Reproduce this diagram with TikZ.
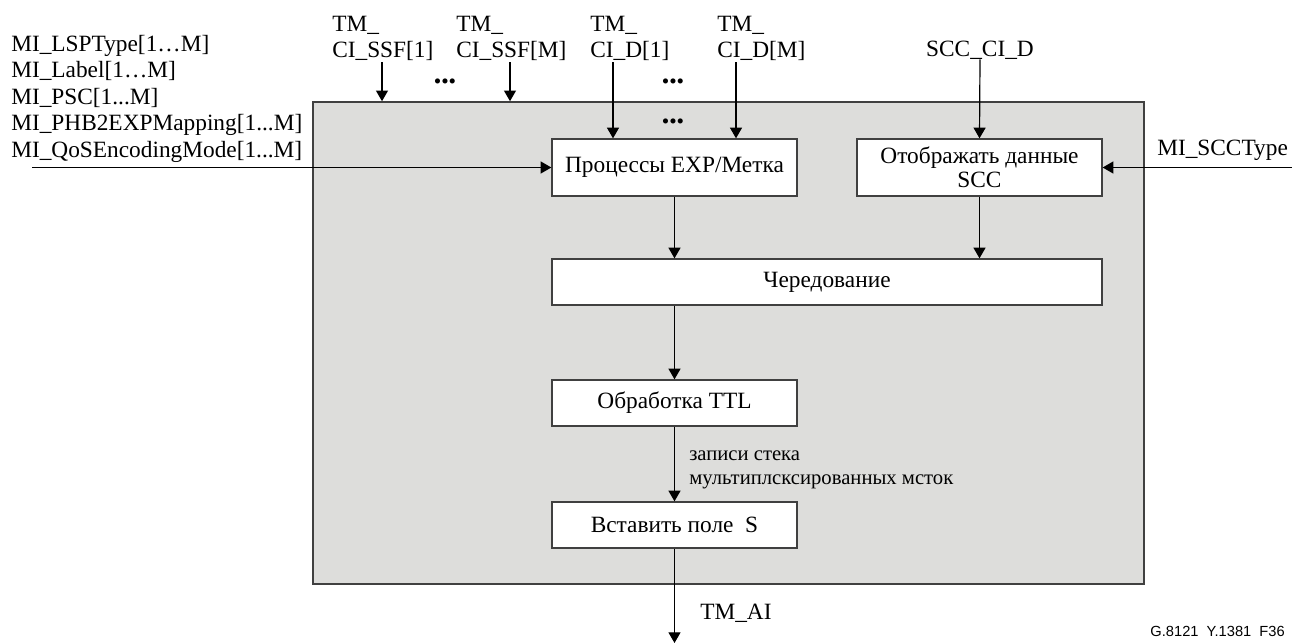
\documentclass[tikz,border=0pt]{standalone}
\usepackage{fontspec}
\setmainfont{Liberation Serif}
\newfontfamily\figfont{Liberation Sans}
\usetikzlibrary{arrows.meta}
\definecolor{panel}{RGB}{221,221,219}
\definecolor{edge}{RGB}{64,64,64}
\tikzset{
  block/.style={draw=edge, line width=1pt, fill=white, inner sep=0pt,
    minimum width=183.75pt, minimum height=34.5pt, font=\fontsize{17.5}{18}\selectfont},
  sig/.style={inner sep=0pt, align=left, font=\fontsize{17.5}{19.8}\selectfont},
  dots/.style={inner sep=0pt, font=\fontsize{16}{16}\selectfont},
  flow/.style={->, line width=0.9pt},
}

\begin{document}
\begin{tikzpicture}[x=0.75pt,y=-0.75pt,>={Triangle[length=8pt,width=9pt]}]
    \useasboundingbox (0,0) rectangle (1292,643);
    % Frame
    \node[draw=edge, line width=1.2pt, fill=panel, minimum width=623.25pt, minimum height=361.5pt] (frame) at (728.5,343) {};
    % Blocks
    \node[block, minimum height=42.75pt] (exp) at (674.5,167.5) {Процессы EXP/Метка};
    \node[block, minimum height=42.75pt, align=center] (scc) at (979.5,167.5) {Отображать данные\\SCC};
    \node[block, minimum width=412.5pt] (alt) at (827,282) {Чередование};
    \node[block] (ttl) at (674.5,403) {Обработка TTL};
    \node[block] (ins) at (674.5,525) {Вставить поле\ \ S};
    % Inputs at top
    \node[sig, anchor=south west] (ssf1) at (332,61) {TM\_\\CI\_SSF[1]};
    \node[sig, anchor=south west] (ssfm) at (456,61) {TM\_\\CI\_SSF[M]};
    \node[sig, anchor=south west] (d1) at (590,61) {TM\_\\CI\_D[1]};
    \node[sig, anchor=south west] (dm) at (717,61) {TM\_\\CI\_D[M]};
    \node[sig, anchor=base] (scci) at (980,56) {SCC\_CI\_D};
    \coordinate (ssf1src) at (382,62);
    \coordinate (ssfmsrc) at (510,62);
    \coordinate (d1src) at (613,62);
    \coordinate (dmsrc) at (736,62);
    \node[dots] (dotsa) at (445,84) {\textbullet\textbullet\textbullet};
    \node[dots] (dotsb) at (673,84) {\textbullet\textbullet\textbullet};
    \node[dots] (dotsc) at (673,124) {\textbullet\textbullet\textbullet};
    % Management inputs
    \node[sig, anchor=north west] (mi) at (11,35) {MI\_LSPType[1…M]\\MI\_Label[1…M]\\MI\_PSC[1...M]\\MI\_PHB2EXPMapping[1...M]\\MI\_QoSEncodingMode[1...M]};
    \node[sig, anchor=base west] (misc) at (1157,155) {MI\_SCCType};
    \coordinate (inl) at (32,167.5);
    \coordinate (inr) at (1292,167.5);
    % Output
    \coordinate (out) at (674.5,643);
    \node[sig, anchor=base west] (ai) at (700,619) {TM\_AI};
    \node[sig, anchor=north west, font=\fontsize{15.5}{18}\selectfont] (lbl) at (689,450) {записи стека\\мультиплсксированных мсток};
    \node[anchor=base east, inner sep=0pt, font=\figfont\fontsize{11}{12}\selectfont] (fig) at (1285,636) {G.8121\ \ Y.1381\ \ F36};
    % Connectors
    \draw[flow] (ssf1src) -- (ssf1src |- frame.north);
    \draw[flow] (ssfmsrc) -- (ssfmsrc |- frame.north);
    \draw[flow] (d1src) -- (d1src |- exp.north);
    \draw[flow] (dmsrc) -- (dmsrc |- exp.north);
    \draw[flow] (scci.south) -- (scc.north);
    \draw[flow] (inl) -- (exp.west);
    \draw[flow] (inr) -- (scc.east);
    \draw[flow] (exp.south) -- (exp.south |- alt.north);
    \draw[flow] (scc.south) -- (scc.south |- alt.north);
    \draw[flow] (ttl.north |- alt.south) -- (ttl.north);
    \draw[flow] (ttl.south) -- (ins.north);
    \draw[flow] (ins.south) -- (out);
\end{tikzpicture}
\end{document}
